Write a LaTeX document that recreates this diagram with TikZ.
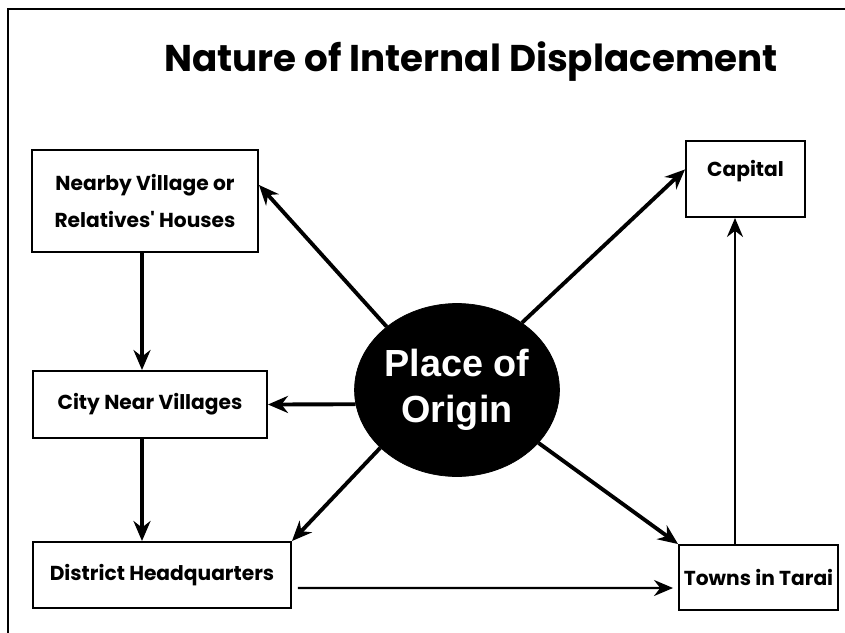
\documentclass[tikz,border=0pt]{standalone}
\usepackage{fontspec}
\usepackage{tikz}
\usetikzlibrary{
  arrows.meta,
  shapes,
  shapes.geometric,
  positioning,
  calc
}
\newfontfamily\gothic{Poppins}
\newfontfamily\helv{Liberation Sans}
\definecolor{dpInk}{HTML}{000000}
\tikzset{
  dpnode/.style={
    draw=dpInk, line width=1.1pt, align=center, inner sep=1pt,
    font=\gothic\bfseries\fontsize{11.5}{21}\selectfont
  },
  place/.style={dpnode, minimum width=45.2mm, minimum height=20.4mm},
  origin/.style={draw=dpInk, fill=dpInk, ellipse, minimum width=39.4mm, minimum height=34.6mm,
    text=white, align=center, font=\helv\bfseries\fontsize{21.5}{26}\selectfont, inner sep=0pt},
  move/.style={-{Stealth[length=4mm, width=3.4mm]}, line width=2.2pt, dpInk},
  thinmove/.style={-{Stealth[length=3.8mm, width=3.2mm]}, line width=1.3pt, dpInk},
  frameline/.style={line width=1.4pt, dpInk},
  heading/.style={font=\gothic\bfseries\fontsize{21.2}{26}\selectfont}
}
\begin{document}
\begin{tikzpicture}[x=0.2mm, y=-0.2mm]
  \useasboundingbox (0,0) rectangle (845,633);
  \draw[frameline] (8,640) |- (850,9);
  \node[heading] (title) at (471,62) {Nature of Internal Displacement};
  \node[origin] (orig) at (457,390) {Place of\\Origin};
  \node[place] (nearby) at (145,201) {Nearby Village or\\Relatives' Houses};
  \node[place, minimum width=46.8mm, minimum height=13.4mm] (city) at (150,404.5) {City Near Villages};
  \node[place, minimum width=51.6mm, minimum height=13.2mm] (district) at (162,575) {District Headquarters};
  \node[place, minimum width=23.8mm, minimum height=15.2mm, text depth=4.2mm] (capital) at (745.5,179) {Capital};
  \node[place, minimum width=31.8mm, minimum height=13mm] (towns) at (758.5,577.5) {Towns in Tarai};
  \draw[move] (orig.138) -- (nearby.8);
  \draw[move] (orig.46) -- (capital.171);
  \draw[move] (orig.188) -- (city.east);
  \draw[move] (orig.217) -- (district.north east);
  \draw[move] (orig.-33) -- (towns.north west);
  \draw[move] ([xshift=-0.6mm]nearby.south) -- ([xshift=-0.6mm]nearby.south |- city.north);
  \draw[move] ([xshift=-0.6mm]nearby.south |- city.south) -- ([xshift=-0.6mm]nearby.south |- district.north);
  \draw[thinmove] ([xshift=1.2mm, yshift=-2.6mm]district.east) -- ([xshift=-1mm, yshift=-2.1mm]towns.west);
  \draw[thinmove] ([xshift=-4.7mm]towns.north) -- ([xshift=-4.7mm]towns.north |- capital.south);
\end{tikzpicture}
\end{document}
